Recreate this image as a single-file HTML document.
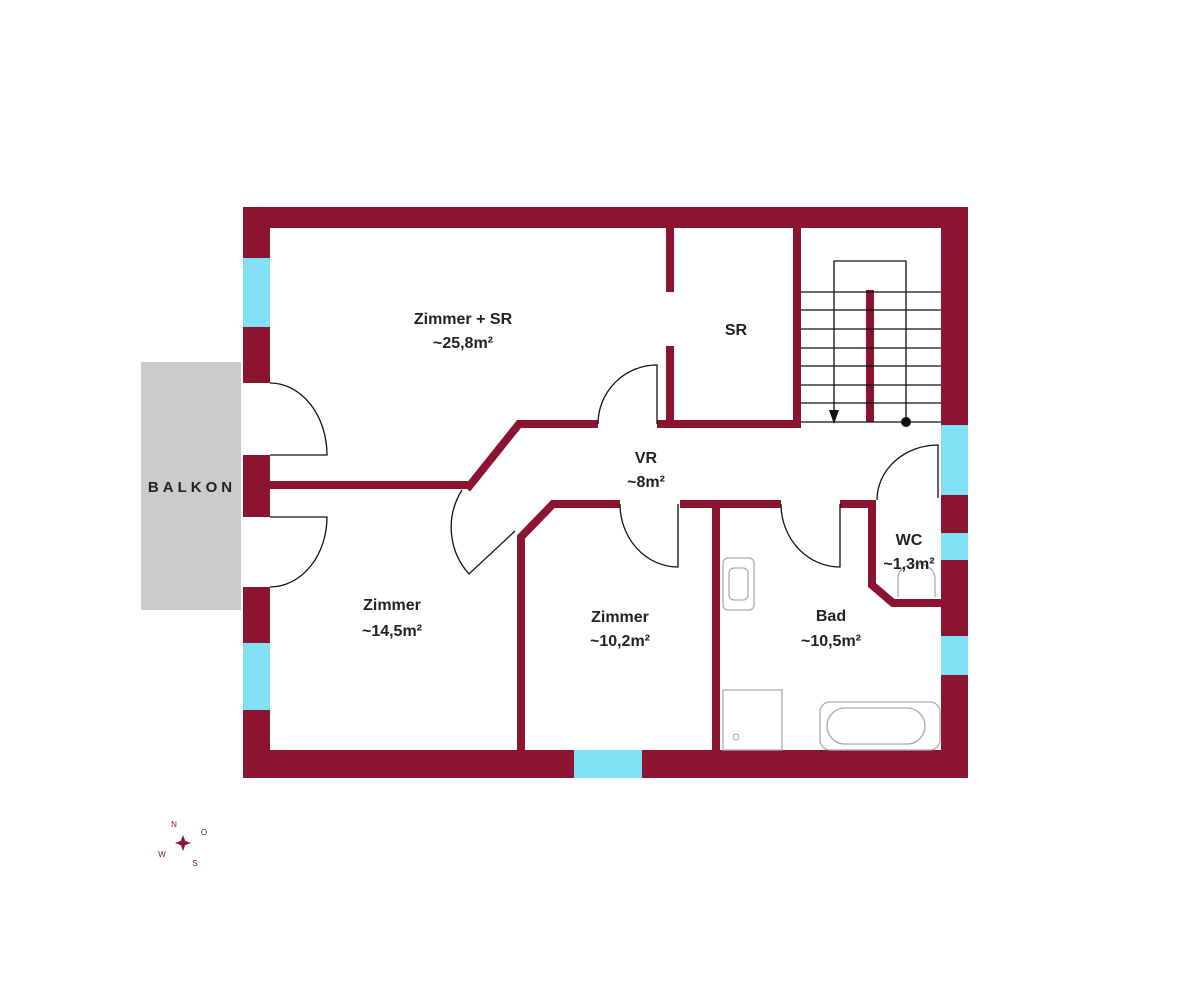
<!DOCTYPE html>
<html><head><meta charset="utf-8"><style>
html,body{margin:0;padding:0;background:#fff}
svg{display:block}
text{font-family:"Liberation Sans",sans-serif;font-weight:bold;font-size:16px;fill:#222;text-anchor:middle}
</style></head><body>
<svg width="1200" height="1000" viewBox="0 0 1200 1000">
<!-- balcony -->
<rect x="141" y="362" width="100" height="248" fill="#cbcbcb"/>
<text x="192" y="492" style="letter-spacing:4px;font-size:15px">BALKON</text>
<!-- outer walls -->
<g fill="#8b1530">
<rect x="243" y="207" width="725" height="21"/>
<rect x="243" y="750" width="725" height="28"/>
<rect x="243" y="207" width="27" height="176"/>
<rect x="243" y="455" width="27" height="62"/>
<rect x="243" y="587" width="27" height="191"/>
<rect x="941" y="207" width="27" height="571"/>
</g>
<!-- windows -->
<g fill="#80e0f5">
<rect x="243" y="258" width="27" height="69"/>
<rect x="243" y="643" width="27" height="67"/>
<rect x="941" y="425" width="27" height="70"/>
<rect x="941" y="533" width="27" height="27"/>
<rect x="941" y="636" width="27" height="39"/>
<rect x="574" y="750" width="68" height="28"/>
</g>
<!-- interior walls -->
<g stroke="#8b1530" stroke-width="8" fill="none">
<line x1="270" y1="485" x2="472" y2="485"/>
<polyline points="467,489 519,424 598,424"/>
<line x1="657" y1="424" x2="800" y2="424"/>
<line x1="670" y1="228" x2="670" y2="292"/>
<line x1="670" y1="346" x2="670" y2="424"/>
<line x1="797" y1="228" x2="797" y2="428"/>
<polyline points="620,504 553,504 521,537 521,750"/>
<line x1="680" y1="504" x2="781" y2="504"/>
<line x1="716" y1="504" x2="716" y2="750"/>
<polyline points="840,504 872,504 872,585 893,603 941,603"/>
<line x1="870" y1="290" x2="870" y2="422"/>
</g>
<!-- stairs -->
<g stroke="#111" stroke-width="1.3" fill="none">
<line x1="801" y1="292" x2="941" y2="292"/>
<line x1="801" y1="310" x2="941" y2="310"/>
<line x1="801" y1="329" x2="941" y2="329"/>
<line x1="801" y1="348" x2="941" y2="348"/>
<line x1="801" y1="366" x2="941" y2="366"/>
<line x1="801" y1="385" x2="941" y2="385"/>
<line x1="801" y1="403" x2="941" y2="403"/>
<line x1="801" y1="422" x2="941" y2="422"/>
<polyline points="834,414 834,261 906,261 906,422"/>
</g>
<polygon points="829,410 839,410 834,424" fill="#111"/>
<circle cx="906" cy="422" r="5" fill="#111"/>
<!-- doors -->
<g stroke="#111" stroke-width="1.3" fill="none">
<path d="M270,383 A57,72 0 0 1 327,455 L270,455"/>
<path d="M270,517 L327,517 A57,70 0 0 1 270,587"/>
<path d="M598,424 A59,59 0 0 1 657,365 L657,424"/>
<path d="M620,504 A58,63 0 0 0 678,567 L678,504"/>
<path d="M781,504 A59,63 0 0 0 840,567 L840,504"/>
<path d="M877,500 A61,55 0 0 1 938,445 L938,498"/>
<path d="M462,490 A70,70 0 0 0 469,574 L515,531"/>
</g>
<!-- fixtures -->
<g stroke="#aaa" stroke-width="1.3" fill="none">
<rect x="723" y="558" width="31" height="52" rx="5"/>
<rect x="729" y="568" width="19" height="32" rx="5"/>
<rect x="723" y="690" width="59" height="60"/>
<rect x="820" y="702" width="120" height="48" rx="10"/>
<rect x="827" y="708" width="98" height="36" rx="18"/>
<path d="M898,597 L898,578 A18,14 0 0 1 935,578 L935,597"/>
</g>
<circle cx="736" cy="737" r="3" fill="none" stroke="#aaa"/>
<!-- labels -->
<text x="463" y="324">Zimmer + SR</text>
<text x="463" y="348">~25,8m²</text>
<text x="736" y="335">SR</text>
<text x="646" y="463">VR</text>
<text x="646" y="487">~8m²</text>
<text x="392" y="610">Zimmer</text>
<text x="392" y="636">~14,5m²</text>
<text x="620" y="622">Zimmer</text>
<text x="620" y="646">~10,2m²</text>
<text x="831" y="621">Bad</text>
<text x="831" y="646">~10,5m²</text>
<text x="909" y="545">WC</text>
<text x="909" y="569">~1,3m²</text>
<!-- compass -->
<g fill="#8b1530">
<polygon points="183,835 186,843 183,851 180,843"/>
<polygon points="175,843 183,840 191,843 183,846"/>
</g>
<g style="font-family:'Liberation Serif',serif;font-size:8px;fill:#8b1530;font-weight:normal">
<text x="174" y="827" style="font-size:8px;fill:#8b1530;font-weight:normal">N</text>
<text x="204" y="835" style="font-size:8px;fill:#8b1530;font-weight:normal">O</text>
<text x="162" y="857" style="font-size:8px;fill:#8b1530;font-weight:normal">W</text>
<text x="195" y="866" style="font-size:8px;fill:#8b1530;font-weight:normal">S</text>
</g>
</svg>
</body></html>
